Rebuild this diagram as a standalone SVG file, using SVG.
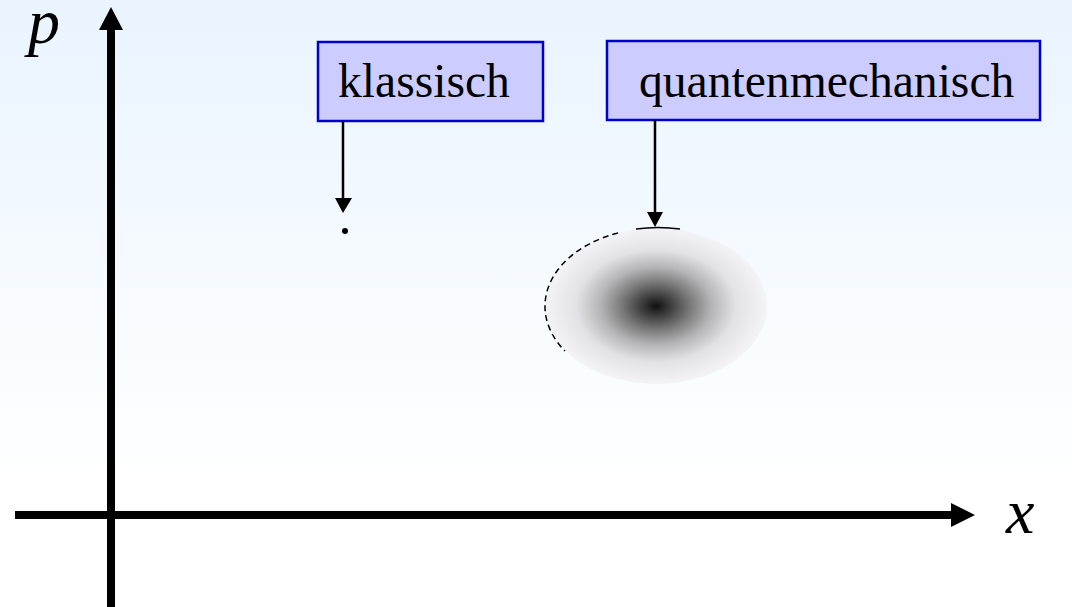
<svg xmlns="http://www.w3.org/2000/svg" width="1072" height="607" viewBox="0 0 1072 607">
<defs>
<linearGradient id="bg" x1="0" y1="0" x2="0" y2="1">
<stop offset="0" stop-color="#E9F4FF"/>
<stop offset="0.8" stop-color="#FFFFFF"/>
<stop offset="1" stop-color="#FFFFFF"/>
</linearGradient>
<radialGradient id="blob" cx="0.5" cy="0.5" r="0.5">
<stop offset="0" stop-color="#111111"/>
<stop offset="0.12" stop-color="#3a3a3a"/>
<stop offset="0.3" stop-color="#777777"/>
<stop offset="0.5" stop-color="#b4b4b6"/>
<stop offset="0.72" stop-color="#e2e2e6"/>
<stop offset="1" stop-color="#f4f4f8"/>
</radialGradient>
<style>
.box{fill:#CCCCFF;stroke:#0000CC;stroke-width:2.5}
.lbl{font-family:"Liberation Serif","Times New Roman",serif;font-size:47.6px;fill:#000}
.var{font-family:"Liberation Serif","Times New Roman",serif;font-style:italic;font-size:64px;fill:#000}
.axis{stroke:#000;stroke-width:8;fill:none}
.conn{stroke:#000;stroke-width:2.5;fill:none}
</style>
</defs>
<rect width="1072" height="607" fill="url(#bg)"/>
<g id="axes">
<line class="axis" x1="111" y1="607" x2="111" y2="28"/>
<polygon points="111,7 99,30 123,30" fill="#000"/>
<line class="axis" x1="15" y1="515" x2="953" y2="515"/>
<polygon points="975,515 951,503 951,527" fill="#000"/>
<text class="var" x="28" y="43">p</text>
<text class="var" x="1006" y="533">x</text>
</g>
<g id="quantum-state">
<ellipse cx="656" cy="306" rx="111" ry="78" fill="url(#blob)"/>
<path d="M618,233 A111,78 0 0,0 565,351" fill="none" stroke="#000" stroke-width="1.5" stroke-dasharray="6,4"/>
<path d="M636,229 A111,78 0 0,1 680,229" fill="none" stroke="#000" stroke-width="1.5"/>
</g>
<g id="classical-point">
<circle cx="345" cy="231" r="3" fill="#000"/>
</g>
<g id="klassisch">
<rect class="box" x="318" y="42" width="225" height="79"/>
<text class="lbl" x="338" y="97">klassisch</text>
</g>
<g id="quantenmechanisch">
<rect class="box" x="607" y="41" width="433" height="79"/>
<text class="lbl" x="639" y="97">quantenmechanisch</text>
</g>
<g id="connectors">
<line class="conn" x1="343" y1="121" x2="343" y2="198"/>
<polygon points="343,213 335,198 352,198" fill="#000"/>
<line class="conn" x1="655" y1="120" x2="655" y2="212"/>
<polygon points="655,227 647,212 663,212" fill="#000"/>
</g>
</svg>
